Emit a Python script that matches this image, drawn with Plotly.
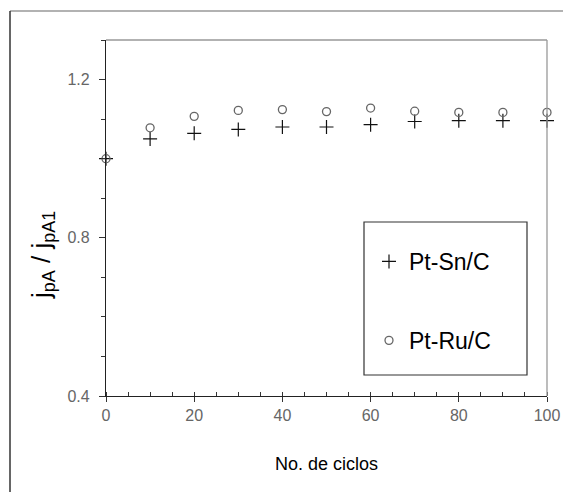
import plotly.graph_objects as go

cycles = [0, 10, 20, 30, 40, 50, 60, 70, 80, 90, 100]
pt_sn_c = [1.000, 1.050, 1.064, 1.074, 1.080, 1.080, 1.086, 1.094, 1.096, 1.096, 1.096]
pt_ru_c = [1.000, 1.078, 1.107, 1.122, 1.124, 1.119, 1.128, 1.120, 1.117, 1.117, 1.117]
y_ticks = [0.4, 0.8, 1.2]
x_ticks = [0, 20, 40, 60, 80, 100]

# page body has an 8px margin; work in screen coordinates
OFF = 8
W, H = 571 - OFF, 492 - OFF
PL, PR, PT, PB = 106, 547, 40, 396  # plot area in screen px
L, T = PL - OFF, PT - OFF
R, B = W - (PR - OFF), H - (PB - OFF)
pw, ph = PR - PL, PB - PT

def px(x):
    return (x - PL) / pw

def py(y):
    return (PB - y) / ph

fig = go.Figure()
fig.add_trace(go.Scatter(
    x=cycles, y=pt_sn_c, mode="markers", name="Pt-Sn/C",
    legendgroup="a",
    marker=dict(symbol="cross-thin-open", size=10, color="#111",
                line=dict(width=1.2, color="#111")),
    cliponaxis=False))
fig.add_trace(go.Scatter(
    x=cycles, y=pt_ru_c, mode="markers", name="Pt-Ru/C",
    legendgroup="b",
    marker=dict(symbol="circle-open", size=8, color="#666",
                line=dict(width=1.3, color="#666")),
    cliponaxis=False))

font = "Liberation Sans, Arial, sans-serif"

fig.update_layout(
    width=W, height=H,
    margin=dict(l=L, r=R, t=T, b=B, pad=0),
    paper_bgcolor="white", plot_bgcolor="white",
    font=dict(family=font, color="#000"),
    showlegend=True,
    legend=dict(x=px(369), y=py(240), xanchor="left", yanchor="top",
                bgcolor="rgba(0,0,0,0)", borderwidth=0,
                font=dict(size=23, color="#000", family=font),
                tracegroupgap=46, itemwidth=30),
    xaxis=dict(range=[0, 100], tickvals=x_ticks, ticks="outside", ticklen=5,
               tickcolor="#333", showline=True, linecolor="#222", linewidth=1.3,
               showgrid=False, zeroline=False,
               tickfont=dict(size=16, color="#666", family=font),
               minor=dict(dtick=5, ticks="inside", ticklen=4, tickcolor="#333", showgrid=False),
               title=dict(text="No. de ciclos", font=dict(size=18, color="#000"), standoff=34)),
    yaxis=dict(range=[0.4, 1.3], tickvals=y_ticks, ticktext=["0.4", "0.8", "1.2"],
               ticks="outside", ticklen=6, ticklabelstandoff=6,
               tickcolor="#333", showline=True, linecolor="#222", linewidth=1.3,
               showgrid=False, zeroline=False,
               tickfont=dict(size=16, color="#666", family=font),
               minor=dict(dtick=0.1, tick0=0.4, ticks="outside", ticklen=4, tickcolor="#333", showgrid=False),
               title=dict(text="")),
)

ytitle = ("j<sub><span style='font-size:18px'>pA</span></sub> / "
          "j<sub><span style='font-size:18px'>pA1</span></sub>")
fig.add_annotation(text=ytitle, xref="paper", yref="paper", x=px(42), y=py(255),
                   xanchor="center", yanchor="middle", textangle=-90, showarrow=False,
                   font=dict(size=26, color="#000", family=font))

shapes = [
    # plot frame top/right (gray)
    dict(type="line", xref="paper", yref="paper", x0=0, x1=1, y0=1, y1=1,
         line=dict(color="#999", width=1.3)),
    dict(type="line", xref="paper", yref="paper", x0=1, x1=1, y0=0, y1=1,
         line=dict(color="#999", width=1.3)),
    # outer figure frame
    dict(type="line", xref="paper", yref="paper", x0=px(10), x1=px(580), y0=py(11), y1=py(11),
         line=dict(color="#999", width=1.5)),
    dict(type="line", xref="paper", yref="paper", x0=px(10), x1=px(10), y0=py(11), y1=py(500),
         line=dict(color="#333", width=1.5)),
    # legend box
    dict(type="rect", xref="paper", yref="paper", x0=px(364), x1=px(527), y0=py(375), y1=py(222),
         line=dict(color="#333", width=1.2)),
]
fig.update_layout(shapes=shapes)

fig.write_html("out.html")
